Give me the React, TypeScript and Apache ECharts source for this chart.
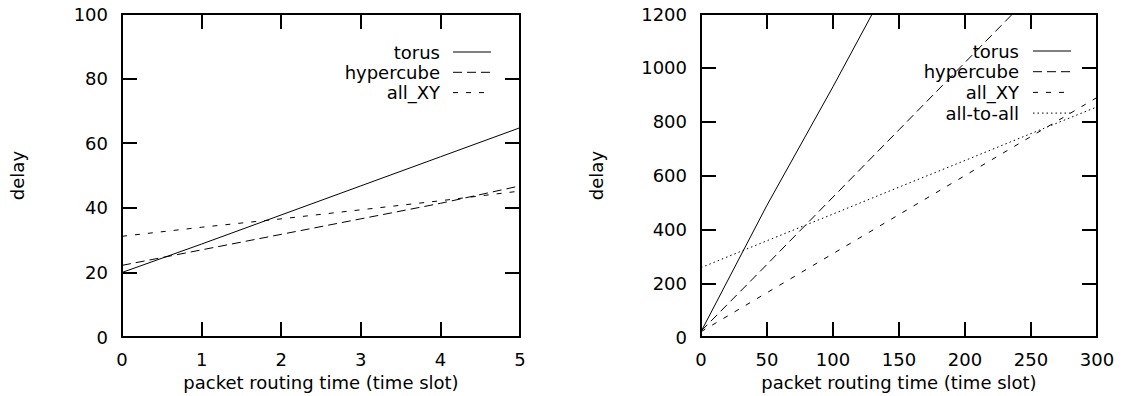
import React, { useEffect, useRef } from "react";
import * as echarts from "echarts";

// ---- data ----
const leftX = [0, 1, 2, 3, 4, 5];
const leftTorus = [20, 28.8, 37.8, 46.8, 55.8, 64.8];
const leftHypercube = [22.2, 27, 31.8, 36.6, 41.4, 46.8];
const leftAllXY = [31.2, 34, 36.6, 39.4, 42.2, 45.2];

const rightX = [0, 50, 100, 150, 200, 250, 300];
const rightTorus = [20, 490, 930, 1385];
const rightHypercube = [22, 270, 520, 770, 1020, 1270];
const rightAllXY = [20, 165, 310, 455, 600, 745, 890];
const rightAllToAll = [258, 358, 457, 557, 656, 756, 855];

const leftNames = ["torus", "hypercube", "all_XY"];
const rightNames = ["torus", "hypercube", "all_XY", "all-to-all"];

const xTitle = "packet routing time (time slot)";
const yTitle = "delay";

// ---- styles ----
const FONT = "'DejaVu Sans', 'Liberation Sans', Arial, sans-serif";
const FS = 18;
const dashes: Record<string, any> = {
  torus: "solid",
  hypercube: [9, 5],
  all_XY: [5, 8],
  "all-to-all": [1.5, 3],
};

const zip = (xs: number[], ys: number[]) => ys.map((y, i) => [xs[i], y]);

function axisPair(
  kind: "x" | "y",
  gridIndex: number,
  min: number,
  max: number,
  interval: number,
  name: string
) {
  const line = { show: true, onZero: false, lineStyle: { color: "#000", width: 2 } };
  const tick = { show: true, inside: true, length: 15, lineStyle: { color: "#000", width: 2 } };
  const main: any = {
    type: "value",
    gridIndex,
    min,
    max,
    interval,
    position: kind === "x" ? "bottom" : "left",
    axisLine: line,
    axisTick: tick,
    splitLine: { show: false },
    axisLabel: {
      show: true,
      color: "#000",
      fontSize: FS,
      fontFamily: FONT,
      margin: kind === "x" ? 13 : 14,
      showMinLabel: true,
      showMaxLabel: true,
      formatter: (v: number) => String(v),
    },
    name,
    nameLocation: "middle",
    nameGap: kind === "x" ? 33 : 96,
    nameTextStyle: { color: "#000", fontSize: FS, fontFamily: FONT },
  };
  const mirror: any = {
    type: "value",
    gridIndex,
    min,
    max,
    interval,
    position: kind === "x" ? "top" : "right",
    axisLine: line,
    axisTick: tick,
    splitLine: { show: false },
    axisLabel: { show: false },
  };
  return [main, mirror];
}

function legendGraphics(
  names: string[],
  textRight: number,
  lineX1: number,
  lineX2: number,
  top: number,
  gap: number
) {
  const els: any[] = [];
  names.forEach((n, i) => {
    const y = top + gap * i;
    els.push({
      type: "text",
      z: 100,
      style: {
        text: n,
        x: textRight,
        y,
        align: "right",
        verticalAlign: "middle",
        fill: "#000",
        fontSize: FS,
        fontFamily: FONT,
      },
    });
    const d = dashes[n];
    els.push({
      type: "line",
      z: 100,
      shape: { x1: lineX1, y1: y, x2: lineX2, y2: y },
      style: {
        stroke: "#000",
        lineWidth: 1,
        lineDash: d === "solid" ? null : d,
      },
    });
  });
  return els;
}

function lineSeries(name: string, xi: number, yi: number, data: number[][]) {
  return {
    type: "line",
    name,
    xAxisIndex: xi,
    yAxisIndex: yi,
    data,
    symbol: "none",
    clip: true,
    silent: true,
    lineStyle: { color: "#000", width: 1, type: dashes[name] },
  };
}

export default function App() {
  const ref = useRef<HTMLDivElement>(null);

  useEffect(() => {
    document.body.style.margin = "0";
    if (!ref.current) return;
    const chart = echarts.init(ref.current, undefined, { renderer: "svg" });

    const [lx, lxTop] = axisPair("x", 0, 0, 5, 1, xTitle);
    const [ly, lyRight] = axisPair("y", 0, 0, 100, 20, yTitle);
    const [rx, rxTop] = axisPair("x", 1, 0, 300, 50, xTitle);
    const [ry, ryRight] = axisPair("y", 1, 0, 1200, 200, yTitle);

    chart.setOption({
      animation: false,
      backgroundColor: "#fff",
      textStyle: { fontFamily: FONT },
      grid: [
        { left: 122, top: 14, width: 398, height: 329, containLabel: false },
        { left: 701, top: 14, width: 396, height: 329, containLabel: false },
      ],
      xAxis: [lx, lxTop, rx, rxTop],
      yAxis: [ly, lyRight, ry, ryRight],
      series: [
        lineSeries("torus", 0, 0, zip(leftX, leftTorus)),
        lineSeries("hypercube", 0, 0, zip(leftX, leftHypercube)),
        lineSeries("all_XY", 0, 0, zip(leftX, leftAllXY)),
        lineSeries("torus", 2, 2, zip(rightX, rightTorus)),
        lineSeries("hypercube", 2, 2, zip(rightX, rightHypercube)),
        lineSeries("all_XY", 2, 2, zip(rightX, rightAllXY)),
        lineSeries("all-to-all", 2, 2, zip(rightX, rightAllToAll)),
      ],
      graphic: [
        ...legendGraphics(leftNames, 440, 453, 491, 52, 20.3),
        ...legendGraphics(rightNames, 1019, 1033, 1071, 51, 20.7),
      ],
    });

    return () => chart.dispose();
  }, []);

  return <div ref={ref} style={{ width: 1124, height: 396 }} />;
}
